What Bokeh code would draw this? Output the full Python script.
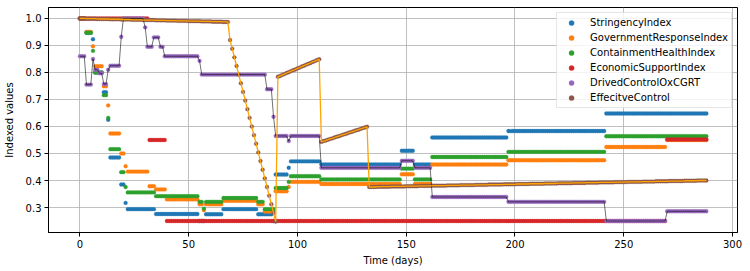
from bokeh.plotting import figure
from bokeh.models import FixedTicker, PrintfTickFormatter, ColumnDataSource
from bokeh.embed import file_html
from bokeh.resources import INLINE

# ---------------- data ----------------
N_DAYS = 289
DAYS = list(range(N_DAYS))

# piecewise-constant series given as (first_day, value) runs
STRINGENCY_RUNS = [(0, 1.0), (3, 0.947), (6, 0.923), (7, 0.80), (11, 0.727), (13, 0.625),
                   (14, 0.485), (19, 0.385), (21, 0.317), (22, 0.294), (35, 0.276), (55, 0.25),
                   (58, 0.275), (66, 0.294), (82, 0.275), (89, 0.25), (90, 0.422), (96, 0.447),
                   (97, 0.471), (111, 0.459), (148, 0.51), (154, 0.459), (162, 0.559),
                   (197, 0.583), (242, 0.648)]
GOVRESPONSE_RUNS = [(0, 1.0), (3, 0.95), (6, 0.897), (7, 0.823), (11, 0.749), (13, 0.678),
                    (14, 0.574), (19, 0.50), (21, 0.453), (22, 0.433), (32, 0.379), (35, 0.367),
                    (40, 0.33), (55, 0.312), (57, 0.29), (58, 0.312), (66, 0.325), (82, 0.312),
                    (85, 0.285), (90, 0.36), (96, 0.376), (97, 0.395), (111, 0.387), (148, 0.423),
                    (154, 0.387), (162, 0.459), (197, 0.475), (242, 0.524), (270, 0.55)]
CONTAINMENT_RUNS = [(0, 1.0), (3, 0.947), (6, 0.88), (7, 0.80), (11, 0.716), (13, 0.632),
                    (14, 0.516), (19, 0.431), (21, 0.376), (22, 0.356), (35, 0.342), (55, 0.321),
                    (57, 0.296), (58, 0.321), (66, 0.335), (82, 0.321), (85, 0.294), (90, 0.372),
                    (96, 0.395), (97, 0.416), (111, 0.404), (148, 0.444), (154, 0.404),
                    (162, 0.487), (197, 0.506), (242, 0.564)]
ECONOMIC_RUNS = [(0, 1.0), (32, 0.55), (40, 0.25), (270, 0.552)]
DRIVED_RUNS = [(0, 0.86), (3, 0.755), (6, 0.85), (7, 0.81), (9, 0.797), (11, 0.757), (13, 0.81),
               (14, 0.825), (19, 0.932), (20, 1.0), (30, 0.967), (31, 0.895), (34, 0.93),
               (37, 0.895), (39, 0.86), (55, 0.843), (56, 0.792), (86, 0.738), (89, 0.636),
               (90, 0.565), (96, 0.546), (97, 0.565), (111, 0.447), (148, 0.473), (154, 0.447),
               (162, 0.339), (197, 0.321), (242, 0.25), (270, 0.286)]

# EffectiveControl, one value per day
EFFECTIVE_A = ([1.000] * 3 + [0.999] * 5 + [0.998] * 6 + [0.997] * 5 + [0.996] * 5 + [0.995] * 5 +
               [0.994] * 6 + [0.993] * 5 + [0.992] * 5 + [0.991] * 5 + [0.990] * 6 + [0.989] * 5 +
               [0.988] * 5 + [0.987] * 2)                                   # days 0-67
EFFECTIVE_B = [0.987, 0.920, 0.888, 0.856, 0.824, 0.792, 0.760, 0.728, 0.696, 0.664, 0.632, 0.600,
               0.568, 0.536, 0.504, 0.472, 0.440, 0.408, 0.376, 0.344, 0.312, 0.280, 0.248]  # 68-90
EFFECTIVE_C = [0.784, 0.787, 0.791, 0.794, 0.798, 0.801, 0.805, 0.808, 0.811, 0.815, 0.818, 0.822,
               0.825, 0.829, 0.832, 0.835, 0.839, 0.842, 0.846, 0.849]           # 91-110
EFFECTIVE_D = [0.543, 0.546, 0.548, 0.551, 0.554, 0.556, 0.559, 0.562, 0.564, 0.567, 0.570, 0.572,
               0.575, 0.578, 0.580, 0.583, 0.586, 0.588, 0.591, 0.594, 0.596, 0.599]  # 111-132
EFFECTIVE_E = ([0.376] * 4 + [0.377] * 6 + [0.378] * 7 + [0.379] * 6 + [0.380] * 6 + [0.381] * 7 +
               [0.382] * 6 + [0.383] * 7 + [0.384] * 6 + [0.385] * 7 + [0.386] * 6 + [0.387] * 6 +
               [0.388] * 7 + [0.389] * 6 + [0.390] * 7 + [0.391] * 6 + [0.392] * 6 + [0.393] * 7 +
               [0.394] * 6 + [0.395] * 7 + [0.396] * 6 + [0.397] * 6 + [0.398] * 7 + [0.399] * 6 +
               [0.400] * 5)                                                # 133-288
EFFECTIVE = EFFECTIVE_A + EFFECTIVE_B + EFFECTIVE_C + EFFECTIVE_D + EFFECTIVE_E

SERIES_NAMES = ["StringencyIndex", "GovernmentResponseIndex", "ContainmentHealthIndex",
                "EconomicSupportIndex", "DrivedControlOxCGRT", "EffecitveControl"]
COLORS = ["#1f77b4", "#ff7f0e", "#2ca02c", "#d62728", "#9467bd", "#8c564b"]
X_TICKS = [0, 50, 100, 150, 200, 250, 300]
Y_TICKS = [0.3, 0.4, 0.5, 0.6, 0.7, 0.8, 0.9, 1.0]


def expand(runs):
    out = []
    for i, (start, val) in enumerate(runs):
        end = runs[i + 1][0] if i + 1 < len(runs) else N_DAYS
        out += [val] * (end - start)
    return out


series = [expand(STRINGENCY_RUNS), expand(GOVRESPONSE_RUNS), expand(CONTAINMENT_RUNS),
          expand(ECONOMIC_RUNS), expand(DRIVED_RUNS), EFFECTIVE]

FONT = "DejaVu Sans"

p = figure(width=750, height=271, x_range=(-14.45, 302.3), y_range=(0.2075, 1.0405),
           output_backend="svg", toolbar_location=None)
p.min_border_left = 45
p.min_border_right = 13
p.min_border_top = 7
p.min_border_bottom = 39
p.background_fill_color = "white"
p.border_fill_color = "white"
p.outline_line_color = "black"
p.outline_line_width = 1

for name, col, vals in zip(SERIES_NAMES, COLORS, series):
    src = ColumnDataSource(dict(x=DAYS, y=vals))
    p.scatter("x", "y", source=src, marker="circle", size=3.9, fill_color=col,
              line_color=col, line_width=0.3, legend_label=name)

p.line(DAYS, series[4], line_color="black", line_width=0.8, line_alpha=0.7)
p.line(DAYS, EFFECTIVE, line_color="#ffa500", line_width=1.3)

# axes
for ax in (p.xaxis[0], p.yaxis[0]):
    ax.axis_line_color = "black"
    ax.axis_line_width = 1
    ax.major_tick_line_color = "black"
    ax.major_tick_out = 4
    ax.major_tick_in = 0
    ax.minor_tick_line_color = None
    ax.major_label_text_font = FONT
    ax.major_label_text_font_size = "10px"
    ax.major_label_text_color = "black"
    ax.axis_label_text_font = FONT
    ax.axis_label_text_font_size = "10px"
    ax.axis_label_text_font_style = "normal"
    ax.axis_label_text_color = "black"
    ax.major_label_standoff = 3

p.xaxis.ticker = FixedTicker(ticks=X_TICKS)
p.yaxis.ticker = FixedTicker(ticks=Y_TICKS)
p.xaxis.formatter = PrintfTickFormatter(format="%d")
p.yaxis.formatter = PrintfTickFormatter(format="%.1f")
p.xaxis.axis_label = "Time (days)"
p.yaxis.axis_label = "Indexed values"
p.xaxis.axis_label_standoff = 4
p.yaxis.axis_label_standoff = 8

p.grid.grid_line_color = "#b0b0b0"
p.grid.grid_line_width = 0.8

leg = p.legend[0]
leg.location = "top_right"
leg.margin = 5
leg.padding = 3
leg.spacing = 2
leg.glyph_height = 13
leg.label_height = 13
leg.glyph_width = 22
leg.label_standoff = 8
leg.label_text_font = FONT
leg.label_text_font_size = "10px"
leg.label_text_color = "black"
leg.border_line_color = "#cccccc"
leg.border_line_width = 1
leg.background_fill_color = "white"
leg.background_fill_alpha = 0.8

with open("out.html", "w", encoding="utf-8") as f:
    f.write(file_html(p, INLINE))
